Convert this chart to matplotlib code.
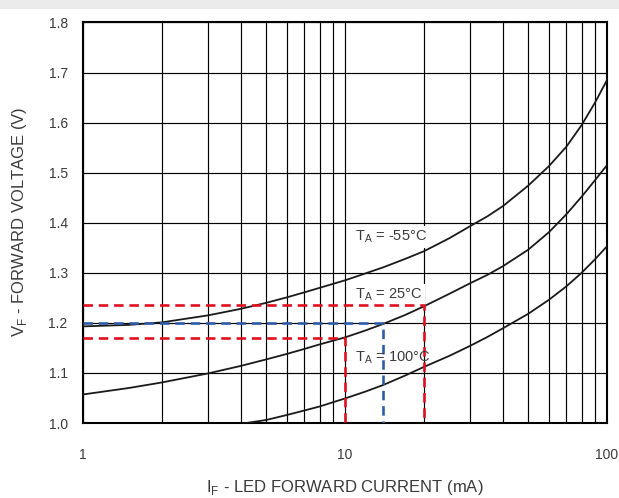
import matplotlib
matplotlib.use("Agg")
import matplotlib.pyplot as plt
from matplotlib.ticker import FixedLocator, NullFormatter
from matplotlib.patches import Rectangle

# ---- data ----
i_m55 = [1, 1.5, 2, 3, 4, 5, 6, 7, 8, 10, 12, 14, 17, 20, 25, 30, 35, 40, 50, 60, 70, 80, 90, 100]
v_m55 = [1.193, 1.196, 1.201, 1.215, 1.228, 1.240, 1.251, 1.261, 1.270, 1.285, 1.299, 1.311, 1.328,
         1.343, 1.369, 1.393, 1.413, 1.433, 1.474, 1.513, 1.552, 1.595, 1.640, 1.685]

i_25 = [1, 1.5, 2, 3, 4, 5, 6, 7, 8, 10, 12, 14, 17, 20, 25, 30, 35, 40, 50, 60, 70, 80, 90, 100]
v_25 = [1.057, 1.070, 1.081, 1.099, 1.114, 1.127, 1.138, 1.148, 1.157, 1.171, 1.185, 1.198, 1.216,
        1.233, 1.258, 1.279, 1.296, 1.313, 1.346, 1.381, 1.417, 1.452, 1.485, 1.515]

i_100 = [4.2, 5, 6, 7, 8, 10, 12, 14, 17, 20, 25, 30, 35, 40, 50, 60, 70, 80, 90, 100]
v_100 = [1.000, 1.006, 1.016, 1.025, 1.033, 1.049, 1.063, 1.076, 1.095, 1.112, 1.134, 1.154, 1.172,
         1.189, 1.218, 1.246, 1.273, 1.300, 1.327, 1.353]

# operating-point guide lines (current mA, voltage V)
red_hi = (20, 1.235)
blue_mid = (14, 1.199)
red_lo = (10, 1.169)

y_ticks = [1.0, 1.1, 1.2, 1.3, 1.4, 1.5, 1.6, 1.7, 1.8]
y_tick_labels = ["1.0", "1.1", "1.2", "1.3", "1.4", "1.5", "1.6", "1.7", "1.8"]
x_major = [1, 10, 100]
x_major_labels = ["1", "10", "100"]
x_minor = [2, 3, 4, 5, 6, 7, 8, 9, 20, 30, 40, 50, 60, 70, 80, 90]

label_m55 = r"T$_\mathregular{A}$ = -55°C"
label_25 = r"T$_\mathregular{A}$ = 25°C"
label_100 = r"T$_\mathregular{A}$ = 100°C"
x_label = r"I$_\mathregular{F}$ - LED FORWARD CURRENT (mA)"
y_label = r"V$_\mathregular{F}$ - FORWARD VOLTAGE (V)"

plt.rcParams['font.family'] = ['Liberation Sans', 'DejaVu Sans']

W, H = 619, 498
fig = plt.figure(figsize=(W / 100, H / 100), dpi=100)
fig.patches.append(Rectangle((0, 1 - 9 / H), 1, 9 / H, transform=fig.transFigure,
                             facecolor='#ebebeb', edgecolor='none', zorder=0))
ax = fig.add_axes([83 / W, 75 / H, 524 / W, 400.5 / H])

ax.set_xscale('log')
ax.set_xlim(1, 100)
ax.set_ylim(1.0, 1.8)

ax.xaxis.set_major_locator(FixedLocator(x_major))
ax.set_xticklabels(x_major_labels)
ax.xaxis.set_minor_locator(FixedLocator(x_minor))
ax.xaxis.set_minor_formatter(NullFormatter())
ax.set_yticks(y_ticks)
ax.set_yticklabels(y_tick_labels)

ax.tick_params(which='both', length=0, colors='#3a3a3a', labelsize=10)
ax.tick_params(axis='x', pad=18)
ax.tick_params(axis='y', pad=11)

ax.grid(which='both', color='black', linewidth=0.85, zorder=0.5)
ax.set_axisbelow(True)
for s in ax.spines.values():
    s.set_linewidth(1.5)
    s.set_color('black')

curve_kw = dict(color='#1a1a1a', linewidth=1.3, zorder=3, solid_capstyle='round')
ax.plot(i_m55, v_m55, **curve_kw)
ax.plot(i_25, v_25, **curve_kw)
ax.plot(i_100, v_100, **curve_kw)

red = '#e01020'
blue = '#2f5ca8'
dash_kw = dict(linewidth=1.9, linestyle=(0, (3.6, 2.2)), zorder=4)
for (cur, vol), col in [(red_hi, red), (blue_mid, blue), (red_lo, red)]:
    ax.plot([1, cur, cur], [vol, vol, 1.0], color=col, **dash_kw)

txt_kw = dict(fontsize=10.5, color='#3a3a3a', ha='left', va='center')
ax.text(10.9, 1.372, label_m55, zorder=2.5,
        bbox=dict(facecolor='white', edgecolor='none', pad=2.0), **txt_kw)
ax.text(10.9, 1.256, label_25, zorder=2.5,
        bbox=dict(facecolor='white', edgecolor='none', pad=2.0), **txt_kw)
ax.text(10.9, 1.130, label_100, zorder=5, **txt_kw)

fig.text(20 / W, 1 - 222 / H, y_label, rotation=90, ha='center', va='center',
         fontsize=12, color='#3a3a3a')
fig.text(345 / W, 1 - 487 / H, x_label, ha='center', va='center',
         fontsize=12, color='#3a3a3a')

fig.savefig("out.png", dpi=100)
